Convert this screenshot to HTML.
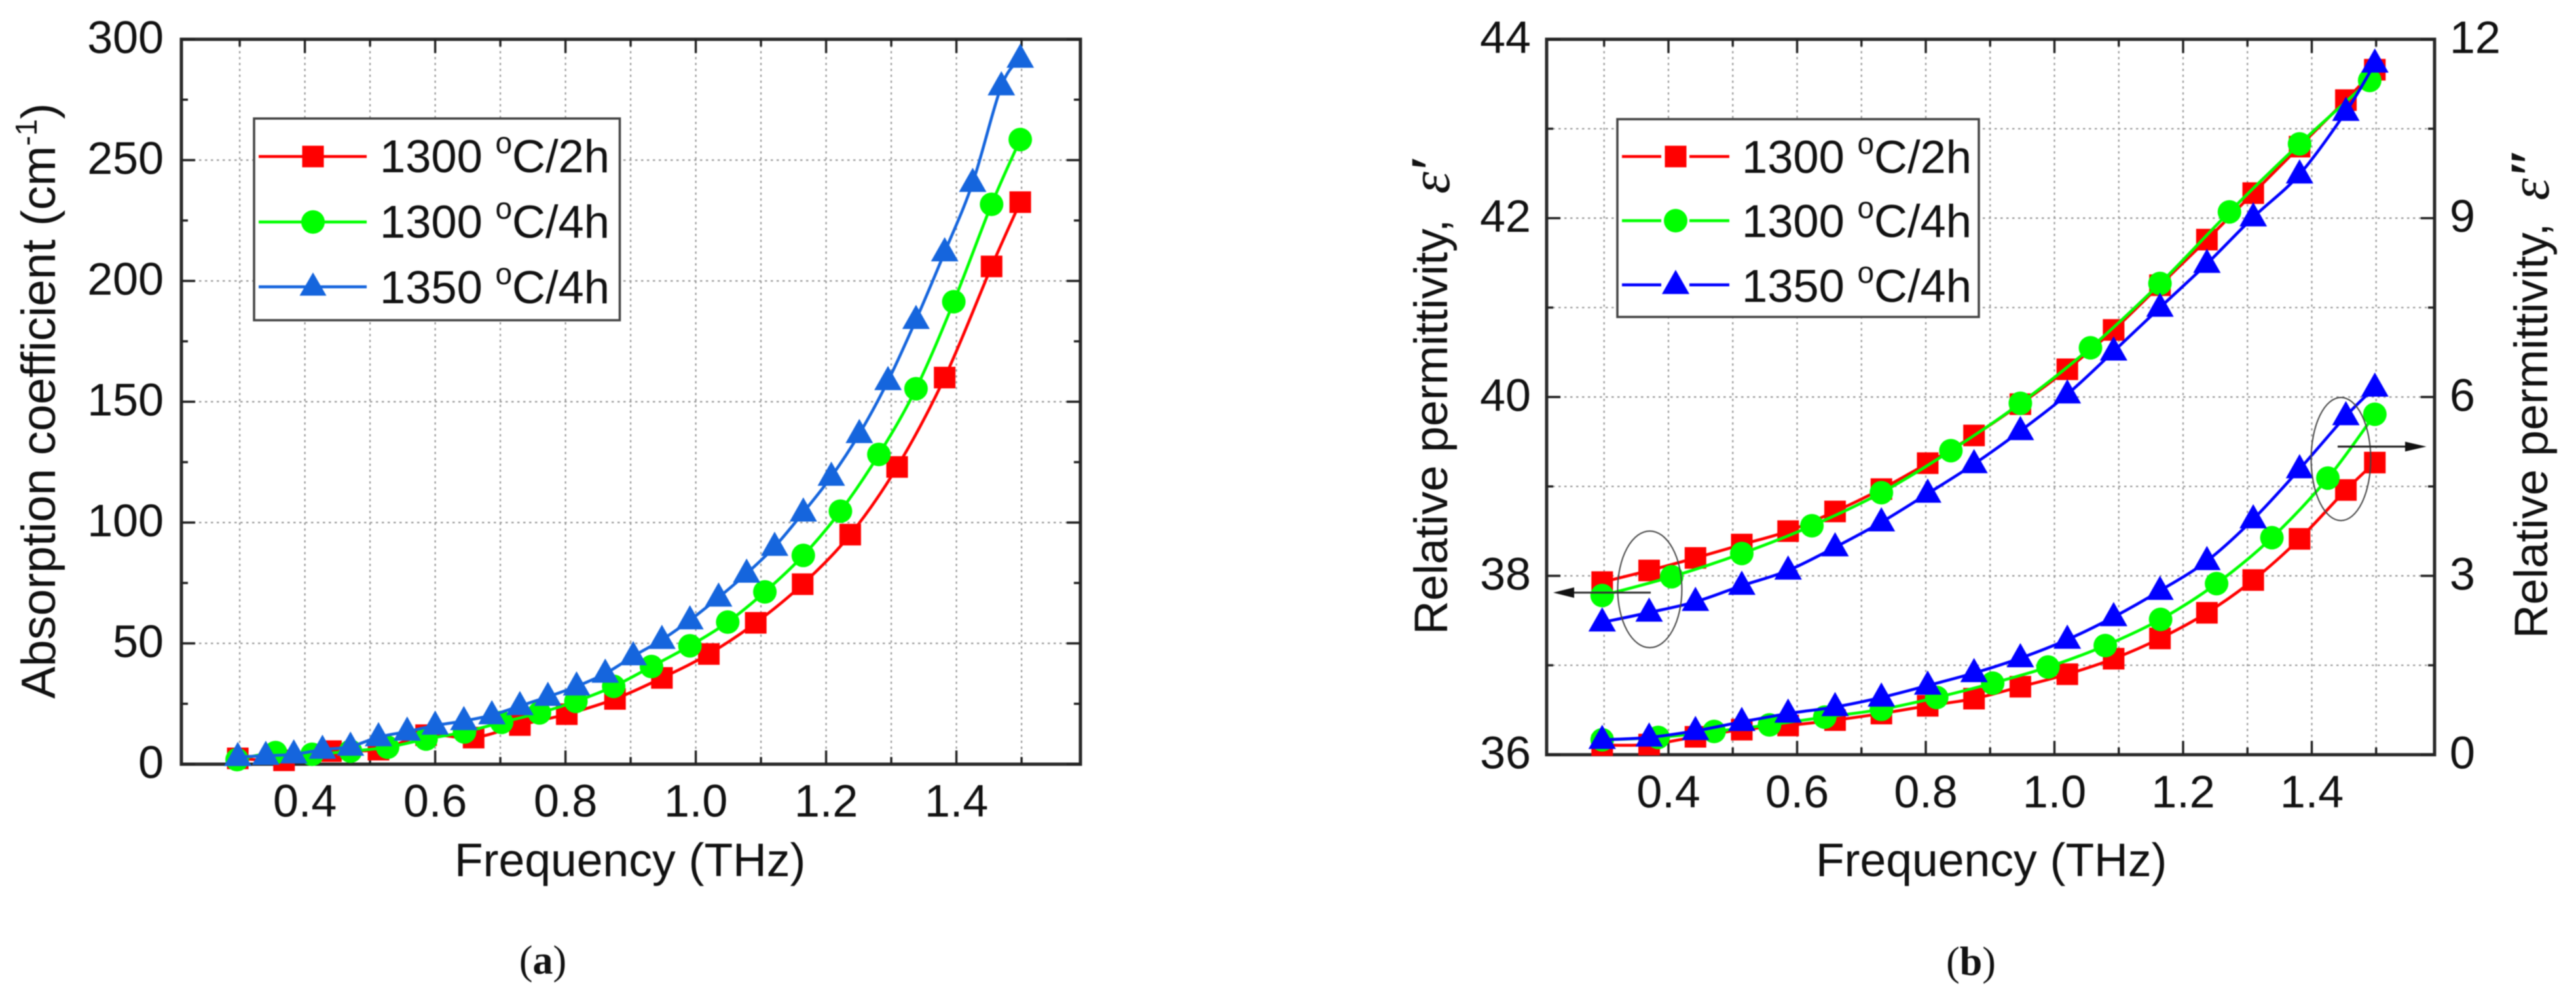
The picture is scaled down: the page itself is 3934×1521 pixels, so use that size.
<!DOCTYPE html>
<html lang="en">
<head>
<meta charset="utf-8">
<title>Absorption coefficient and relative permittivity</title>
<style>
html,body{margin:0;padding:0;background:#fff;}
svg{display:block;filter:blur(0.7px);}
text{font-family:"Liberation Sans",sans-serif;fill:#111;}
.leg{font-size:70.5px;}
.sup{font-size:46px;}
.axt{font-size:71.5px;}
.tick{font-size:70px;}
.cap{font-family:"Liberation Serif",serif;font-size:62px;}
.grid{stroke:#9a9a9a;stroke-width:2.2;stroke-dasharray:3.5 5.5;fill:none;}
.tk{stroke:#222;stroke-width:3.4;}
.frame{fill:#fff;stroke:#2a2a2a;stroke-width:5;}
.legbox{fill:#fff;stroke:#444;stroke-width:3.5;}
</style>
</head>
<body>
<svg id="fig" xmlns="http://www.w3.org/2000/svg" width="3934" height="1521" viewBox="0 0 3934 1521">
  <rect width="3934" height="1521" fill="#fff"/>

  <g id="panel-a">
    <rect class="frame" x="277" y="60" width="1373" height="1107"/>
    <g id="a-grid"></g>
    <g id="a-ticks"></g>
    <g id="a-labels"></g>
    <g id="a-series"></g>
    <text class="axt" x="694" y="1338">Frequency (THz)</text>
    <text font-size="73.5" transform="translate(84,1067) rotate(-90)">Absorption coefficient (cm<tspan font-size="46" dy="-28">-1</tspan><tspan dy="28">)</tspan></text>
    <g>
      <rect class="legbox" x="388" y="181" width="558.5" height="308"/>
      <g>
        <line x1="395" y1="239" x2="560" y2="239" stroke="#ff0000" stroke-width="4.5"/>
        <rect x="461.5" y="222.5" width="33" height="33" fill="#ff0000"/>
        <text class="leg" x="580" y="263">1300 <tspan class="sup" dy="-29">o</tspan><tspan dy="29">C/2h</tspan></text>
      </g>
      <g>
        <line x1="395" y1="339" x2="560" y2="339" stroke="#00ff00" stroke-width="4.5"/>
        <circle cx="478" cy="339" r="18" fill="#00ff00"/>
        <text class="leg" x="580" y="363">1300 <tspan class="sup" dy="-29">o</tspan><tspan dy="29">C/4h</tspan></text>
      </g>
      <g>
        <line x1="395" y1="438" x2="560" y2="438" stroke="#1565dd" stroke-width="4.5"/>
        <polygon points="478,416 457.5,451.5 498.5,451.5" fill="#1565dd"/>
        <text class="leg" x="580" y="463">1350 <tspan class="sup" dy="-29">o</tspan><tspan dy="29">C/4h</tspan></text>
      </g>
    </g>
    <text class="cap" x="829" y="1487" text-anchor="middle">(<tspan font-weight="bold">a</tspan>)</text>
  </g>

  <g id="panel-b">
    <rect class="frame" x="2362" y="60" width="1356" height="1092.5"/>
    <g id="b-grid"></g>
    <g id="b-ticks"></g>
    <g id="b-labels"></g>
    <g id="b-series"></g>
    <text class="axt" x="2773" y="1338">Frequency (THz)</text>
    <text class="axt" transform="translate(2210,969) rotate(-90)">Relative permittivity,</text>
    <text font-size="86" font-style="italic" transform="translate(2213,296) rotate(-90)" style="font-family:'Liberation Serif',serif">ε<tspan font-weight="bold">′</tspan></text>
    <text class="axt" transform="translate(3890,975) rotate(-90)">Relative permittivity,</text>
    <text font-size="86" font-style="italic" transform="translate(3892,306) rotate(-90)" style="font-family:'Liberation Serif',serif">ε<tspan font-weight="bold">″</tspan></text>
    <g>
      <rect class="legbox" x="2470" y="182" width="552" height="302"/>
      <g>
        <line x1="2477" y1="239" x2="2537" y2="239" stroke="#ff0000" stroke-width="4.5"/>
        <line x1="2580" y1="239" x2="2641" y2="239" stroke="#ff0000" stroke-width="4.5"/>
        <rect x="2542.5" y="222.5" width="33" height="33" fill="#ff0000"/>
        <text class="leg" x="2660" y="264">1300 <tspan class="sup" dy="-29">o</tspan><tspan dy="29">C/2h</tspan></text>
      </g>
      <g>
        <line x1="2477" y1="337" x2="2537" y2="337" stroke="#00ff00" stroke-width="4.5"/>
        <line x1="2580" y1="337" x2="2641" y2="337" stroke="#00ff00" stroke-width="4.5"/>
        <circle cx="2559" cy="337" r="18" fill="#00ff00"/>
        <text class="leg" x="2660" y="362">1300 <tspan class="sup" dy="-29">o</tspan><tspan dy="29">C/4h</tspan></text>
      </g>
      <g>
        <line x1="2477" y1="435" x2="2537" y2="435" stroke="#0000ff" stroke-width="4.5"/>
        <line x1="2580" y1="435" x2="2641" y2="435" stroke="#0000ff" stroke-width="4.5"/>
        <polygon points="2559,412 2538,449 2580,449" fill="#0000ff"/>
        <text class="leg" x="2660" y="461">1350 <tspan class="sup" dy="-29">o</tspan><tspan dy="29">C/4h</tspan></text>
      </g>
    </g>
    <g>
      <ellipse cx="2519.5" cy="900" rx="49" ry="89" fill="none" stroke="#444" stroke-width="2"/>
      <line x1="2521" y1="905" x2="2395" y2="905" stroke="#333" stroke-width="3"/>
      <polygon points="2372,905 2404,897 2404,913" fill="#111"/>
      <ellipse cx="3575" cy="701" rx="45.5" ry="94" fill="none" stroke="#444" stroke-width="2"/>
      <line x1="3570" y1="682" x2="3680" y2="682" stroke="#222" stroke-width="3"/>
      <polygon points="3705.6,682 3673,674.5 3673,689.5" fill="#111"/>
    </g>
    <text class="cap" x="3010" y="1489" text-anchor="middle">(<tspan font-weight="bold">b</tspan>)</text>
  </g>
</svg>

<script>
/* ---------- Panel (a): axis ticks ---------- */
const aXMajorTicks = [0.4, 0.6, 0.8, 1.0, 1.2, 1.4];
const aXMajorLabels = ['0.4', '0.6', '0.8', '1.0', '1.2', '1.4'];
const aXMinorTicks = [0.3, 0.5, 0.7, 0.9, 1.1, 1.3, 1.5];
const aYMajorTicks = [0, 50, 100, 150, 200, 250, 300];
const aYMajorLabels = ['0', '50', '100', '150', '200', '250', '300'];
const aYMinorTicks = [25, 75, 125, 175, 225, 275];
const aYGridValues = [50, 100, 150, 200, 250];

/* ---------- Panel (a): series ---------- */
const aRedFreq = [0.297, 0.368, 0.44, 0.513, 0.586, 0.659, 0.73, 0.802, 0.876, 0.948, 1.02, 1.092, 1.164, 1.237, 1.309, 1.382, 1.454, 1.498];
const aRedAbs = [2.4, 1.6, 5.4, 6, 12, 11, 16.2, 20.7, 27, 35.7, 45.6, 58.5, 74.5, 95, 123, 160, 206, 232.6];
const aGreenFreq = [0.296, 0.355, 0.411, 0.47, 0.527, 0.586, 0.645, 0.702, 0.76, 0.816, 0.874, 0.932, 0.991, 1.049, 1.106, 1.165, 1.222, 1.281, 1.338, 1.396, 1.454, 1.498];
const aGreenAbs = [1.9, 4.8, 4.1, 5.4, 7, 10.4, 13.3, 17.3, 21.2, 26, 32.2, 40.4, 49, 58.8, 71.3, 86.4, 104.7, 128.2, 155.4, 191.4, 231.7, 258.5];
const aBlueFreq = [0.297, 0.34, 0.383, 0.427, 0.47, 0.513, 0.557, 0.6, 0.644, 0.687, 0.73, 0.773, 0.817, 0.861, 0.904, 0.948, 0.991, 1.035, 1.078, 1.121, 1.165, 1.208, 1.251, 1.295, 1.338, 1.382, 1.425, 1.469, 1.498];
const aBlueAbs = [3, 3.5, 4.1, 6, 7.3, 11.2, 13.5, 16, 17.9, 20.3, 24.1, 27.9, 32.2, 37.5, 44.7, 51.5, 59.6, 69, 78.9, 90, 104.2, 119, 136.7, 158.6, 183.9, 211.9, 240.6, 280.6, 292];

/* ---------- Panel (b): axis ticks ---------- */
const bXMajorTicks = [0.4, 0.6, 0.8, 1.0, 1.2, 1.4];
const bXMajorLabels = ['0.4', '0.6', '0.8', '1.0', '1.2', '1.4'];
const bXMinorTicks = [0.3, 0.5, 0.7, 0.9, 1.1, 1.3, 1.5];
const bLeftMajorTicks = [36, 38, 40, 42, 44];
const bLeftMajorLabels = ['36', '38', '40', '42', '44'];
const bLeftMinorTicks = [37, 39, 41, 43];
const bRightMajorTicks = [0, 3, 6, 9, 12];
const bRightMajorLabels = ['0', '3', '6', '9', '12'];
const bYGridValues = [37, 38, 39, 40, 41, 42, 43];

/* ---------- Panel (b): real part (left axis) ---------- */
const bRedFreq = [0.297, 0.37, 0.442, 0.514, 0.586, 0.659, 0.731, 0.803, 0.875, 0.947, 1.02, 1.092, 1.164, 1.237, 1.309, 1.381, 1.453, 1.498];
const bRedReal = [37.93, 38.06, 38.2, 38.35, 38.5, 38.72, 38.97, 39.26, 39.57, 39.92, 40.31, 40.75, 41.25, 41.76, 42.28, 42.8, 43.32, 43.66];
const bGreenRealFreq = [0.297, 0.405, 0.514, 0.623, 0.731, 0.839, 0.947, 1.056, 1.164, 1.272, 1.381, 1.49];
const bGreenReal = [37.78, 37.99, 38.25, 38.56, 38.93, 39.4, 39.93, 40.55, 41.27, 42.07, 42.83, 43.54];
const bBlueFreq = [0.297, 0.37, 0.442, 0.514, 0.586, 0.659, 0.731, 0.803, 0.875, 0.947, 1.02, 1.092, 1.164, 1.237, 1.309, 1.381, 1.453, 1.498];
const bBlueReal = [37.48, 37.59, 37.71, 37.89, 38.06, 38.32, 38.6, 38.92, 39.25, 39.62, 40.03, 40.51, 41, 41.49, 42.01, 42.49, 43.19, 43.73];

/* ---------- Panel (b): imaginary part (right axis) ---------- */
const bRedImag = [0.16, 0.17, 0.3, 0.42, 0.49, 0.58, 0.69, 0.82, 0.94, 1.14, 1.35, 1.61, 1.95, 2.38, 2.93, 3.62, 4.44, 4.9];
const bGreenImagFreq = [0.297, 0.384, 0.471, 0.557, 0.643, 0.731, 0.817, 0.904, 0.99, 1.079, 1.165, 1.252, 1.338, 1.425, 1.498];
const bGreenImag = [0.25, 0.29, 0.39, 0.5, 0.63, 0.76, 0.96, 1.2, 1.47, 1.83, 2.27, 2.87, 3.64, 4.64, 5.71];
const bBlueImag = [0.25, 0.29, 0.4, 0.55, 0.69, 0.8, 0.96, 1.16, 1.37, 1.62, 1.93, 2.31, 2.75, 3.25, 3.95, 4.79, 5.68, 6.16];

/* ---------- Axis functions ---------- */
const xA = f => 465.6 + (f - 0.4) * 995;
const yA = v => 1167 - v * 3.69;
const xB = f => 2548 + (f - 0.4) * 982.5;
const yBL = v => 1152.5 - (v - 36) * 136.56;
const yBR = v => 1152.5 - v * 91.04;

const SVGNS = 'http://www.w3.org/2000/svg';
function make(parent, tag) {
  const el = document.createElementNS(SVGNS, tag);
  parent.appendChild(el);
  return el;
}
function setLine(el, x1, y1, x2, y2) {
  el.setAttribute('x1', x1);
  el.setAttribute('y1', y1);
  el.setAttribute('x2', x2);
  el.setAttribute('y2', y2);
}
function splinePath(pts) {
  let d = 'M' + pts[0][0] + ' ' + pts[0][1];
  for (let i = 0; i < pts.length - 1; i++) {
    const p0 = pts[Math.max(i - 1, 0)];
    const p1 = pts[i];
    const p2 = pts[i + 1];
    const p3 = pts[Math.min(i + 2, pts.length - 1)];
    const c1x = p1[0] + (p2[0] - p0[0]) / 6;
    const c1y = p1[1] + (p2[1] - p0[1]) / 6;
    const c2x = p2[0] - (p3[0] - p1[0]) / 6;
    const c2y = p2[1] - (p3[1] - p1[1]) / 6;
    d += 'C' + c1x + ' ' + c1y + ' ' + c2x + ' ' + c2y + ' ' + p2[0] + ' ' + p2[1];
  }
  return d;
}

function drawVerticalGrid(g, values, xFn, top, bottom) {
  values.forEach(v => {
    const el = make(g, 'line');
    setLine(el, xFn(v), top, xFn(v), bottom);
    el.setAttribute('class', 'grid');
    
    
  });
}
function drawHorizontalGrid(g, values, yFn, left, right) {
  values.forEach(v => {
    const el = make(g, 'line');
    setLine(el, left, yFn(v), right, yFn(v));
    el.setAttribute('class', 'grid');
    
    
  });
}
function drawXTicks(g, values, xFn, top, bottom, len) {
  values.forEach(v => {
    const a = make(g, 'line');
    setLine(a, xFn(v), bottom, xFn(v), bottom - len);
    a.setAttribute('class', 'tk');
    
    
    const b = make(g, 'line');
    setLine(b, xFn(v), top, xFn(v), top + len);
    b.setAttribute('class', 'tk');
    
    
  });
}
function drawYTicks(g, values, yFn, edge, dir, len) {
  values.forEach(v => {
    const el = make(g, 'line');
    setLine(el, edge, yFn(v), edge + dir * len, yFn(v));
    el.setAttribute('class', 'tk');
    
    
  });
}
function drawXLabels(g, values, labels, xFn, baseline) {
  values.forEach((v, i) => {
    const el = make(g, 'text');
    el.setAttribute('x', xFn(v));
    el.setAttribute('y', baseline);
    el.setAttribute('text-anchor', 'middle');
    el.setAttribute('class', 'tick');
    
    
    el.textContent = labels[i];
  });
}
function drawYLabels(g, values, labels, yFn, x, anchor) {
  values.forEach((v, i) => {
    const el = make(g, 'text');
    el.setAttribute('x', x);
    el.setAttribute('y', yFn(v) + 21);
    el.setAttribute('text-anchor', anchor);
    el.setAttribute('class', 'tick');
    
    
    el.textContent = labels[i];
  });
}
function drawSeries(g, freqs, vals, xFn, yFn, color, shape) {
  const pts = freqs.map((f, i) => [xFn(f), yFn(vals[i])]);
  const path = make(g, 'path');
  path.setAttribute('d', splinePath(pts));
  path.setAttribute('fill', 'none');
  path.setAttribute('stroke', color);
  path.setAttribute('stroke-width', '4.5');
  
  
  pts.forEach(p => {
    if (shape === 'square') {
      const m = make(g, 'rect');
      m.setAttribute('x', p[0] - 16.5);
      m.setAttribute('y', p[1] - 16.5);
      m.setAttribute('width', 33);
      m.setAttribute('height', 33);
      m.setAttribute('fill', color);
      
      
    } else if (shape === 'circle') {
      const m = make(g, 'circle');
      m.setAttribute('cx', p[0]);
      m.setAttribute('cy', p[1]);
      m.setAttribute('r', 18);
      m.setAttribute('fill', color);
      
      
    } else {
      const m = make(g, 'polygon');
      m.setAttribute('points', p[0] + ',' + (p[1] - 23) + ' ' + (p[0] - 21) + ',' + (p[1] + 14) + ' ' + (p[0] + 21) + ',' + (p[1] + 14));
      m.setAttribute('fill', color);
      
      
    }
  });
}

const byId = id => document.getElementById(id);

/* ---------- Panel (a) ---------- */
drawVerticalGrid(byId('a-grid'), aXMajorTicks.concat(aXMinorTicks), xA, 60, 1167);
drawHorizontalGrid(byId('a-grid'), aYGridValues, yA, 277, 1650);
drawXTicks(byId('a-ticks'), aXMajorTicks, xA, 60, 1167, 21);
drawXTicks(byId('a-ticks'), aXMinorTicks, xA, 60, 1167, 11);
drawYTicks(byId('a-ticks'), aYMajorTicks, yA, 277, 1, 21);
drawYTicks(byId('a-ticks'), aYMinorTicks, yA, 277, 1, 10);
drawYTicks(byId('a-ticks'), aYMajorTicks, yA, 1650, -1, 21);
drawYTicks(byId('a-ticks'), aYMinorTicks, yA, 1650, -1, 10);
drawXLabels(byId('a-labels'), aXMajorTicks, aXMajorLabels, xA, 1247);
drawYLabels(byId('a-labels'), aYMajorTicks, aYMajorLabels, yA, 250, 'end');
drawSeries(byId('a-series'), aRedFreq, aRedAbs, xA, yA, '#ff0000', 'square');
drawSeries(byId('a-series'), aGreenFreq, aGreenAbs, xA, yA, '#00ff00', 'circle');
drawSeries(byId('a-series'), aBlueFreq, aBlueAbs, xA, yA, '#1565dd', 'triangle');

/* ---------- Panel (b) ---------- */
drawVerticalGrid(byId('b-grid'), bXMajorTicks.concat(bXMinorTicks), xB, 60, 1152.5);
drawHorizontalGrid(byId('b-grid'), bYGridValues, yBL, 2362, 3718);
drawXTicks(byId('b-ticks'), bXMajorTicks, xB, 60, 1152.5, 21);
drawXTicks(byId('b-ticks'), bXMinorTicks, xB, 60, 1152.5, 11);
drawYTicks(byId('b-ticks'), bLeftMajorTicks, yBL, 2362, 1, 21);
drawYTicks(byId('b-ticks'), bLeftMinorTicks, yBL, 2362, 1, 10);
drawYTicks(byId('b-ticks'), bRightMajorTicks, yBR, 3718, -1, 21);
drawYTicks(byId('b-ticks'), bLeftMinorTicks, yBL, 3718, -1, 10);
drawXLabels(byId('b-labels'), bXMajorTicks, bXMajorLabels, xB, 1233);
drawYLabels(byId('b-labels'), bLeftMajorTicks, bLeftMajorLabels, yBL, 2338, 'end');
drawYLabels(byId('b-labels'), bRightMajorTicks, bRightMajorLabels, yBR, 3741, 'start');
drawSeries(byId('b-series'), bRedFreq, bRedReal, xB, yBL, '#ff0000', 'square');
drawSeries(byId('b-series'), bGreenRealFreq, bGreenReal, xB, yBL, '#00ff00', 'circle');
drawSeries(byId('b-series'), bBlueFreq, bBlueReal, xB, yBL, '#0000ff', 'triangle');
drawSeries(byId('b-series'), bRedFreq, bRedImag, xB, yBR, '#ff0000', 'square');
drawSeries(byId('b-series'), bGreenImagFreq, bGreenImag, xB, yBR, '#00ff00', 'circle');
drawSeries(byId('b-series'), bBlueFreq, bBlueImag, xB, yBR, '#0000ff', 'triangle');
</script>
</body>
</html>
